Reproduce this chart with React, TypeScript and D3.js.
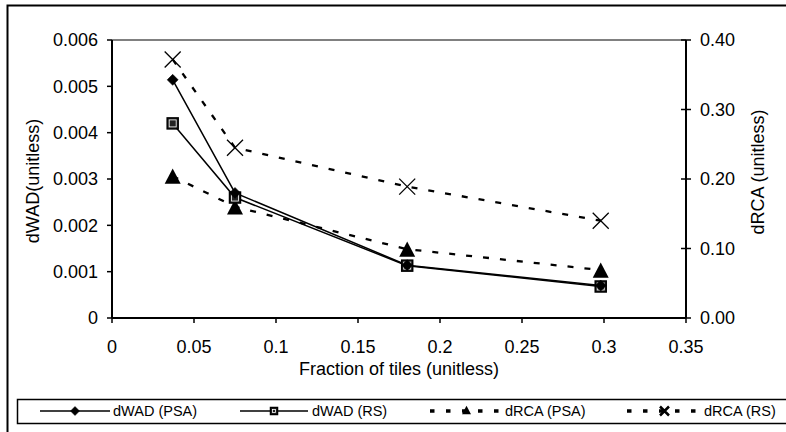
import React from "react";
import * as d3 from "d3";

const xValues = [0.037, 0.075, 0.18, 0.298];
const dwadPSA = [0.00514, 0.0027, 0.00114, 0.0007];
const dwadRS = [0.0042, 0.0026, 0.00113, 0.00068];
const drcaPSA = [0.204, 0.16, 0.099, 0.069];
const drcaRS = [0.372, 0.245, 0.189, 0.14];

const xTicks = [0, 0.05, 0.1, 0.15, 0.2, 0.25, 0.3, 0.35];
const yLeftTicks = [0, 0.001, 0.002, 0.003, 0.004, 0.005, 0.006];
const yRightTicks = [0, 0.1, 0.2, 0.3, 0.4];
const legendLabels = ["dWAD (PSA)", "dWAD (RS)", "dRCA (PSA)", "dRCA (RS)"];

const W = 786;
const H = 432;
const FONT = "'Liberation Sans', Arial, sans-serif";

const x = d3.scaleLinear().domain([0, 0.35]).range([112, 686]);
const yL = d3.scaleLinear().domain([0, 0.006]).range([318, 40]);
const yR = d3.scaleLinear().domain([0, 0.4]).range([318, 40]);

function Diamond({ cx, cy, r }: { cx: number; cy: number; r: number }) {
  return (
    <path
      d={`M${cx},${cy - r}L${cx + r},${cy}L${cx},${cy + r}L${cx - r},${cy}Z`}
      fill="black"
      stroke="black"
      strokeWidth={0.5}
    />
  );
}

function Square({ cx, cy, s }: { cx: number; cy: number; s: number }) {
  return (
    <g>
      <rect x={cx - s / 2} y={cy - s / 2} width={s} height={s} fill="#222" stroke="black" strokeWidth={1.5} />
      <rect
        x={cx - s / 2 + 2}
        y={cy - s / 2 + 2}
        width={s - 4}
        height={s - 4}
        fill="none"
        stroke="white"
        strokeWidth={0.8}
      />
    </g>
  );
}

function Triangle({ cx, cy, s }: { cx: number; cy: number; s: number }) {
  const h = s * 0.95;
  return (
    <path
      d={`M${cx},${cy - h / 2}L${cx + s / 2},${cy + h / 2}L${cx - s / 2},${cy + h / 2}Z`}
      fill="black"
    />
  );
}

function Cross({ cx, cy, r, w }: { cx: number; cy: number; r: number; w: number }) {
  return (
    <path
      d={`M${cx - r},${cy - r}L${cx + r},${cy + r}M${cx - r},${cy + r}L${cx + r},${cy - r}`}
      stroke="black"
      strokeWidth={w}
      fill="none"
    />
  );
}

export default function App() {
  const lineL = d3
    .line<number>()
    .x((_, i) => x(xValues[i]))
    .y((d) => yL(d));
  const lineR = d3
    .line<number>()
    .x((_, i) => x(xValues[i]))
    .y((d) => yR(d));

  const dash = "6,11";
  const legendY = 411;
  const legendItems = [
    { x1: 40, x2: 110, tx: 113 },
    { x1: 240, x2: 308, tx: 312 },
    { x1: 430, x2: 503, tx: 505 },
    { x1: 627, x2: 702, tx: 704 },
  ];

  return (
    <svg
      width={W}
      height={H}
      style={{ position: "absolute", left: 0, top: 0, background: "white" }}
      fontFamily={FONT}
    >
      <rect x={0} y={0} width={W} height={H} fill="white" />
      {/* outer border */}
      <rect x={7.5} y={5.5} width={W + 20} height={H + 20} fill="none" stroke="black" strokeWidth={2} />

      {/* top gridline */}
      <line x1={x(0)} x2={x(0.35)} y1={yL(0.006)} y2={yL(0.006)} stroke="#808080" strokeWidth={2} />

      {/* axes */}
      <line x1={x(0)} x2={x(0)} y1={yL(0.006)} y2={yL(0)} stroke="black" strokeWidth={2} />
      <line x1={x(0.35)} x2={x(0.35)} y1={yR(0.4)} y2={yR(0)} stroke="black" strokeWidth={2} />
      <line x1={x(0)} x2={x(0.35)} y1={yL(0)} y2={yL(0)} stroke="black" strokeWidth={2} />

      {/* left ticks */}
      {yLeftTicks.map((t) => (
        <g key={"yl" + t}>
          <line x1={x(0) - 5} x2={x(0)} y1={yL(t)} y2={yL(t)} stroke="black" strokeWidth={1.5} />
          <text x={98} y={yL(t)} dy="0.35em" textAnchor="end" fontSize={18}>
            {t === 0 ? "0" : t.toFixed(3)}
          </text>
        </g>
      ))}

      {/* right ticks */}
      {yRightTicks.map((t) => (
        <g key={"yr" + t}>
          <line x1={x(0.35) - 5} x2={x(0.35) + 5} y1={yR(t)} y2={yR(t)} stroke="black" strokeWidth={1.5} />
          <text x={700} y={yR(t)} dy="0.35em" textAnchor="start" fontSize={18}>
            {t.toFixed(2)}
          </text>
        </g>
      ))}

      {/* x ticks */}
      {xTicks.map((t) => (
        <g key={"x" + t}>
          <line x1={x(t)} x2={x(t)} y1={yL(0)} y2={yL(0) + 5} stroke="black" strokeWidth={1.5} />
          <text x={x(t)} y={353} textAnchor="middle" fontSize={18}>
            {t === 0 ? "0" : String(t)}
          </text>
        </g>
      ))}

      {/* axis titles */}
      <text x={399} y={375} textAnchor="middle" fontSize={18}>
        Fraction of tiles (unitless)
      </text>
      <text transform={`translate(39,181) rotate(-90)`} textAnchor="middle" fontSize={18}>
        dWAD(unitless)
      </text>
      <text transform={`translate(764,172) rotate(-90)`} textAnchor="middle" fontSize={18}>
        dRCA (unitless)
      </text>

      {/* series lines */}
      <path d={lineR(drcaRS) || ""} fill="none" stroke="black" strokeWidth={2.3} strokeDasharray={dash} />
      <path d={lineR(drcaPSA) || ""} fill="none" stroke="black" strokeWidth={2.3} strokeDasharray={dash} />
      <path d={lineL(dwadPSA) || ""} fill="none" stroke="black" strokeWidth={1.5} />
      <path d={lineL(dwadRS) || ""} fill="none" stroke="black" strokeWidth={1.5} />

      {/* markers */}
      {drcaPSA.map((v, i) => (
        <Triangle key={"tp" + i} cx={x(xValues[i])} cy={yR(v)} s={16} />
      ))}
      {drcaRS.map((v, i) => (
        <Cross key={"cr" + i} cx={x(xValues[i])} cy={yR(v)} r={8} w={1.3} />
      ))}
      {dwadRS.map((v, i) => (
        <Square key={"sq" + i} cx={x(xValues[i])} cy={yL(v)} s={11} />
      ))}
      {dwadPSA.map((v, i) => (
        <Diamond key={"dm" + i} cx={x(xValues[i])} cy={yL(v)} r={5.5} />
      ))}

      {/* legend */}
      <rect x={17.5} y={399.5} width={W} height={24} fill="white" stroke="black" strokeWidth={1.5} />
      {legendItems.map((it, i) => {
        const mx = (it.x1 + it.x2) / 2;
        return (
          <g key={"lg" + i}>
            <line
              x1={it.x1}
              x2={it.x2}
              y1={legendY}
              y2={legendY}
              stroke="black"
              strokeWidth={i < 2 ? 1.5 : 3.5}
              strokeDasharray={i < 2 ? undefined : "4.5,11.5"}
            />
            {i === 0 && <Diamond cx={mx} cy={legendY} r={4.5} />}
            {i === 1 && <Square cx={mx} cy={legendY} s={7} />}
            {i === 2 && <Triangle cx={mx} cy={legendY - 1} s={9} />}
            {i === 3 && <Cross cx={mx} cy={legendY} r={4.5} w={2.5} />}
            <text x={it.tx} y={legendY} dy="0.35em" fontSize={14.5}>
              {legendLabels[i]}
            </text>
          </g>
        );
      })}
    </svg>
  );
}
